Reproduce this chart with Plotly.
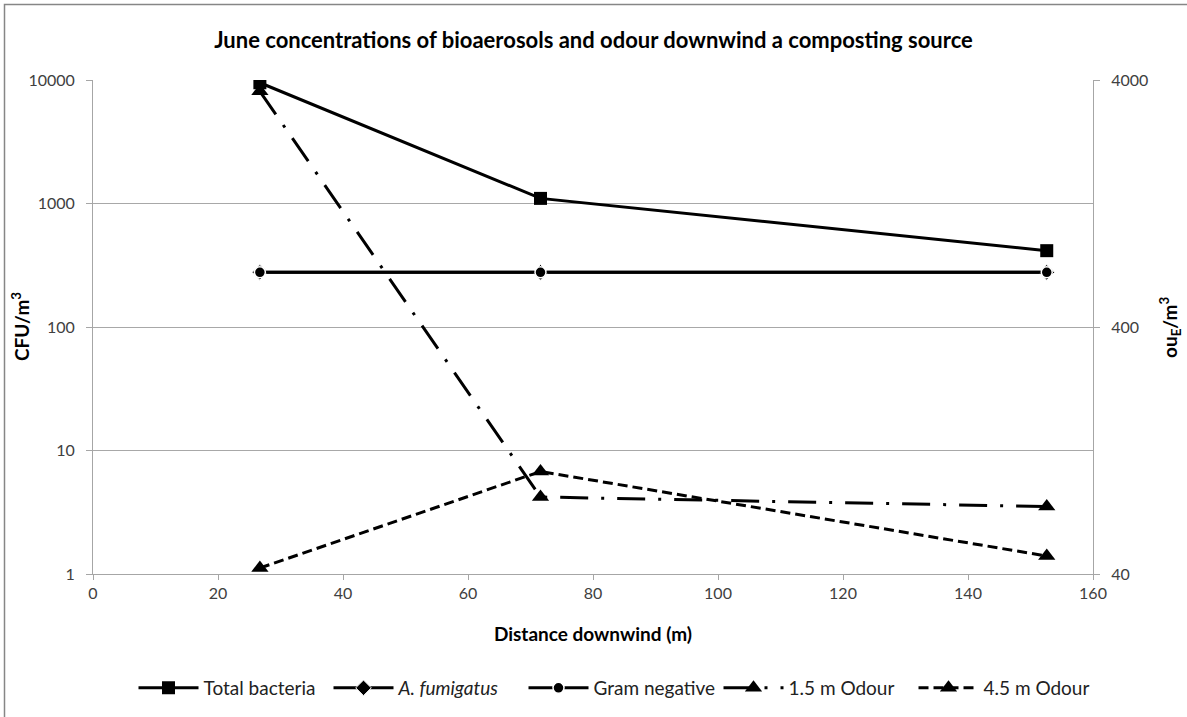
import plotly.graph_objects as go

distance = [26.7, 71.6, 152.6]
total_bacteria = [9500, 1100, 415]
a_fumigatus = [277, 277, 277]
gram_negative = [277, 277, 277]
odour_15 = [3600, 82, 75]
odour_45 = [42.3, 104, 47.3]

FONT = "Lato, 'Open Sans', sans-serif"
fig = go.Figure()

fig.add_trace(go.Scatter(x=distance, y=total_bacteria, name="Total bacteria", mode="lines+markers",
                         line=dict(color="black", width=3),
                         marker=dict(symbol="square", size=13, color="black")))
fig.add_trace(go.Scatter(x=distance, y=a_fumigatus, name="<i>A. fumigatus</i>", mode="lines+markers",
                         line=dict(color="black", width=3),
                         marker=dict(symbol="diamond", size=12, color="black",
                                     line=dict(color="white", width=1))))
fig.add_trace(go.Scatter(x=distance, y=gram_negative, name="Gram negative", mode="lines+markers",
                         line=dict(color="black", width=3),
                         marker=dict(symbol="circle", size=11, color="black",
                                     line=dict(color="white", width=1.5))))
fig.add_trace(go.Scatter(x=distance, y=odour_15, name="1.5 m Odour", mode="lines+markers", yaxis="y2",
                         line=dict(color="black", width=3, dash="28px,13px,3px,13px"),
                         marker=dict(symbol="triangle-up", size=15, color="black")))
fig.add_trace(go.Scatter(x=distance, y=odour_45, name="4.5 m Odour", mode="lines+markers", yaxis="y2",
                         line=dict(color="black", width=3, dash="10px,5px"),
                         marker=dict(symbol="triangle-up", size=15, color="black")))

axis_font = dict(family=FONT, size=16, color="#404040")
title_font = dict(family=FONT, size=19, color="black")

fig.update_layout(
    width=1187, height=717,
    margin=dict(l=93, r=94, t=80, b=143, autoexpand=False),
    paper_bgcolor="white", plot_bgcolor="white",
    font=dict(family=FONT, color="#222"),
    title=dict(text="<b>June concentrations of bioaerosols and odour downwind a composting source</b>",
               x=0.5, xanchor="center", y=1 - 40 / 717, yanchor="middle",
               font=dict(family=FONT, size=22, color="black")),
    xaxis=dict(range=[0, 160], tickvals=[0, 20, 40, 60, 80, 100, 120, 140, 160],
               showgrid=False, zeroline=False, showline=True, linecolor="#a6a6a6", linewidth=1,
               ticks="outside", ticklen=5, tickcolor="#a6a6a6", tickfont=axis_font,
               title=dict(text="<b>Distance downwind (m)</b>", font=title_font, standoff=26)),
    yaxis=dict(type="log", range=[0, 4], tickvals=[1, 10, 100, 1000, 10000],
               ticktext=["1", "10", "100", "1000", "10000"],
               showgrid=True, gridcolor="#a8a8a8", gridwidth=1, zeroline=False,
               showline=True, linecolor="#a6a6a6", linewidth=1,
               ticks="outside", ticklen=6, tickcolor="#a6a6a6", tickfont=axis_font,
               ticklabelstandoff=8),
    yaxis2=dict(type="log", range=[1.60206, 3.60206], tickvals=[40, 400, 4000],
                ticktext=["40", "400", "4000"], overlaying="y", side="right",
                showgrid=False, zeroline=False, showline=True, linecolor="#a6a6a6", linewidth=1,
                ticks="outside", ticklen=6, tickcolor="#a6a6a6", tickfont=axis_font,
                ticklabelstandoff=8),
    legend=dict(orientation="h", x=0.528, xanchor="center", y=-(688 - 574) / 494, yanchor="middle",
                font=dict(family=FONT, size=19, color="#222"), itemwidth=60,
                entrywidth=120, entrywidthmode="pixels",
                bgcolor="rgba(0,0,0,0)"),
    showlegend=True,
)

fig.add_annotation(text="<b>CFU/m<sup>3</sup></b>", xref="paper", yref="paper",
                   x=(20 - 93) / 1000, y=0.5, xanchor="center", yanchor="middle",
                   textangle=-90, showarrow=False, font=title_font)
fig.add_annotation(text="<b>ou<sub>E</sub>/m<sup>3</sup></b>", xref="paper", yref="paper",
                   x=(1170 - 93) / 1000, y=0.5, xanchor="center", yanchor="middle",
                   textangle=-90, showarrow=False, font=title_font)

fig.add_shape(type="rect", xref="paper", yref="paper",
              x0=(4.5 - 93) / 1000, x1=(1200 - 93) / 1000,
              y0=(574 - 730) / 494, y1=(574 - 4.5) / 494,
              line=dict(color="#868686", width=1.5), fillcolor="rgba(0,0,0,0)", layer="below")

fig.write_html("out.html", config={"displayModeBar": False},
               post_script="document.body.style.margin='0px';")
